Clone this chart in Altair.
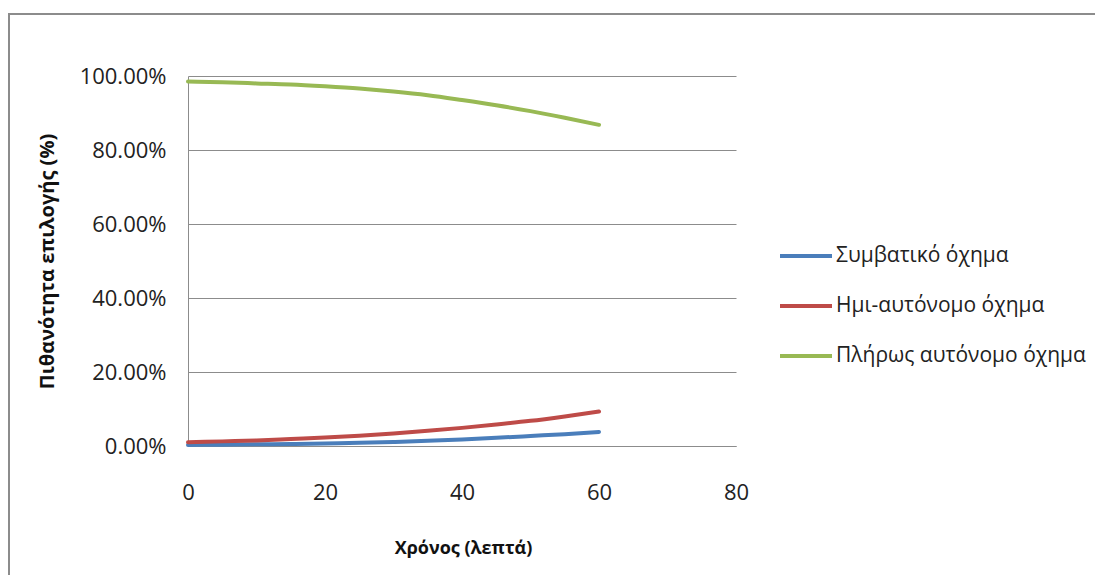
import altair as alt
import pandas as pd

# Data
minutes = [0, 5, 10, 15, 20, 25, 30, 35, 40, 45, 50, 55, 60]
conventional = [0.003, 0.0035, 0.0045, 0.0055, 0.007, 0.0085, 0.011, 0.014, 0.0175, 0.022, 0.027, 0.032, 0.038]
semi_auto = [0.010, 0.0125, 0.015, 0.019, 0.023, 0.028, 0.034, 0.041, 0.049, 0.058, 0.068, 0.080, 0.093]
full_auto = [0.985, 0.983, 0.980, 0.977, 0.972, 0.966, 0.958, 0.948, 0.935, 0.921, 0.905, 0.887, 0.868]

series_names = ["Συμβατικό όχημα", "Ημι-αυτόνομο όχημα", "Πλήρως αυτόνομο όχημα"]
series_colors = ["#4A7EBB", "#BE4B48", "#98B954"]

rows = []
for name, vals in zip(series_names, [conventional, semi_auto, full_auto]):
    for t, v in zip(minutes, vals):
        rows.append({"t": t, "p": v, "series": name})
df = pd.DataFrame(rows)

FONT = "Open Sans"

lines = alt.Chart(df).mark_line(strokeWidth=4, strokeCap="round", interpolate="monotone").encode(
    x=alt.X("t:Q", scale=alt.Scale(domain=[0, 80], nice=False),
            axis=alt.Axis(values=[0, 20, 40, 60, 80], title="Χρόνος (λεπτά)", grid=False,
                          ticks=False, tickSize=0, labelPadding=36, labelFlush=False,
                          titleX=275, titleY=102, titleBaseline="middle", titleAlign="center",
                          titleFontSize=18)),
    y=alt.Y("p:Q", scale=alt.Scale(domain=[0, 1], nice=False),
            axis=alt.Axis(values=[0, 0.2, 0.4, 0.6, 0.8, 1.0], format=".2%",
                          title="Πιθανότητα επιλογής (%)", grid=True,
                          ticks=False, tickSize=0, labelPadding=22,
                          titleX=-141, titleY=185, titleBaseline="middle", titleAlign="center", titleAngle=-90,
                          titleFontSize=20)),
    color=alt.Color("series:N", sort=series_names,
                    scale=alt.Scale(domain=series_names, range=series_colors),
                    legend=alt.Legend(title=None, orient="none", legendX=590, legendY=152,
                                      symbolType="stroke", symbolSize=2704, symbolStrokeWidth=4,
                                      labelFontSize=21, labelFont=FONT, labelColor="#222222",
                                      labelLimit=400, labelOffset=2, rowPadding=12, symbolOffset=0)),
)

frame = alt.Chart(pd.DataFrame({"a": [0]})).mark_rect(fill=None, stroke="#8c8c8c", strokeWidth=2).encode(
    x=alt.value(-179), x2=alt.value(930), y=alt.value(-62), y2=alt.value(520)
)

chart = alt.layer(frame, lines).properties(
    width=548, height=370,
    padding={"left": 180, "top": 68, "right": 359, "bottom": 129},
    autosize=alt.AutoSizeParams(type="none"),
    background="white",
).configure_view(stroke=None).configure_axis(
    domainColor="#8c8c8c", gridColor="#8c8c8c", domainWidth=1, gridWidth=1,
    labelFont=FONT, labelFontSize=22, labelColor="#222222",
    titleFont=FONT, titleFontWeight="bold", titleColor="#111111",
)

chart.save("out.html", embed_options={"renderer": "svg", "actions": False})
